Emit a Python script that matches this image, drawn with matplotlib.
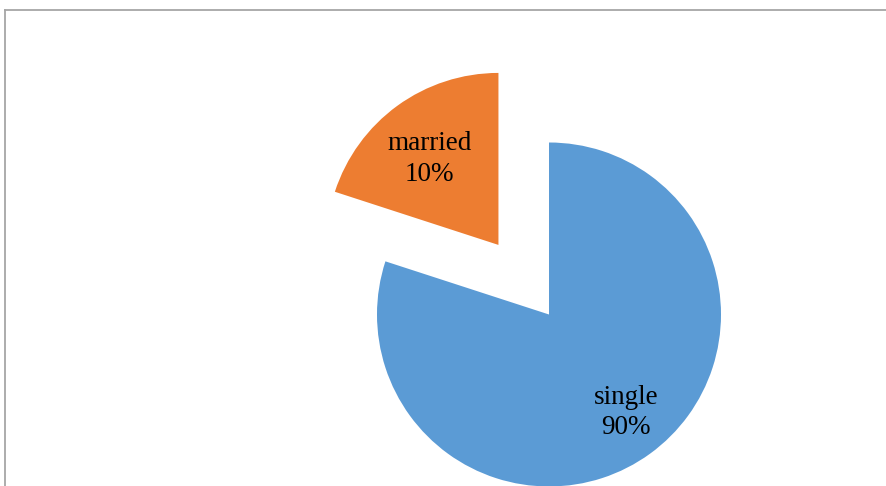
import numpy as np
import matplotlib.pyplot as plt
from matplotlib.lines import Line2D

# slice shares as drawn in the picture, and the label texts printed on them
categories = ['married', 'single']
shares = [20, 80]
pct_labels = ['10%', '90%']
colors = ['#ED7D31', '#5B9BD5']
explode = [0.5, 0.0]
label_dist = [0.64, 0.725]
label_turn = [2.7, 2.2]   # degrees off the slice bisector

W, H = 887, 486
cx, cy, r = 549, 314.5, 172   # pie centre / radius in pixels

fig = plt.figure(figsize=(W / 100, H / 100), dpi=100)
ax = fig.add_axes([0, 0, 1, 1])

wedges, _ = ax.pie(shares, colors=colors, explode=explode, startangle=90,
                   radius=1, wedgeprops=dict(linewidth=0))

for w, name, pct, d, t in zip(wedges, categories, pct_labels, label_dist, label_turn):
    mid = np.deg2rad((w.theta1 + w.theta2) / 2 + t)
    x0, y0 = w.center
    ax.text(x0 + d * np.cos(mid), y0 + d * np.sin(mid), name + '\n' + pct,
            ha='center', va='center', fontsize=19.5, family='Liberation Serif',
            color='black', linespacing=1.3)

ax.set_aspect('auto')
ax.set_xlim(-cx / r, (W - cx) / r)
ax.set_ylim(-(H - cy) / r, cy / r)
ax.axis('off')

# chart-area border (only top and left are visible)
frame_col = '#A6A6A6'
fig.add_artist(Line2D([5 / W, 1], [1 - 10 / H] * 2, color=frame_col, lw=1.3,
                      transform=fig.transFigure))
fig.add_artist(Line2D([5 / W] * 2, [0, 1 - 10 / H], color=frame_col, lw=1.3,
                      transform=fig.transFigure))

fig.savefig('out.png', dpi=100, facecolor='white')
